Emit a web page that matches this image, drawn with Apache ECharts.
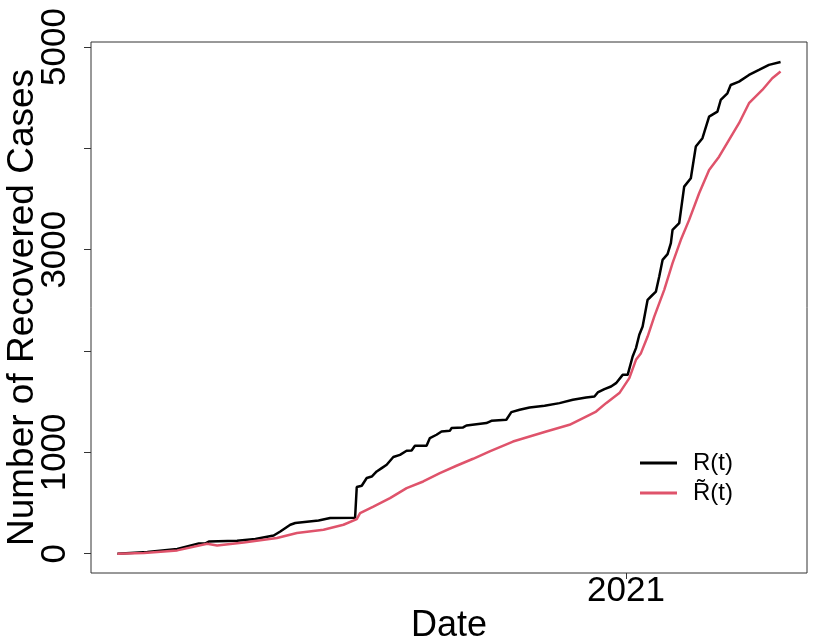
<!DOCTYPE html>
<html>
<head>
<meta charset="utf-8">
<script src="https://cdn.jsdelivr.net/npm/echarts@6/dist/echarts.min.js"></script>
<style>
  html, body { margin: 0; padding: 0; background: #fff; }
  #chart { width: 830px; height: 642px; }
</style>
</head>
<body>
<div id="chart"></div>
<script>
// observed recovered cases R(t)
const obsDates = [
  '2020-03-01', '2020-03-19', '2020-04-06', '2020-04-19', '2020-04-23', '2020-04-25',
  '2020-05-12', '2020-05-23', '2020-06-03', '2020-06-07', '2020-06-13', '2020-06-16',
  '2020-06-30', '2020-07-07', '2020-07-22', '2020-07-23', '2020-07-26', '2020-07-29',
  '2020-08-01', '2020-08-04', '2020-08-07', '2020-08-10', '2020-08-14', '2020-08-18',
  '2020-08-22', '2020-08-25', '2020-08-27', '2020-09-03', '2020-09-05', '2020-09-09',
  '2020-09-12', '2020-09-17', '2020-09-18', '2020-09-25', '2020-09-27', '2020-10-09',
  '2020-10-12', '2020-10-21', '2020-10-24', '2020-10-29', '2020-11-04', '2020-11-13',
  '2020-11-22', '2020-11-30', '2020-12-08', '2020-12-13', '2020-12-15', '2020-12-19',
  '2020-12-23', '2020-12-26', '2020-12-30', '2021-01-02', '2021-01-05', '2021-01-07',
  '2021-01-09', '2021-01-11', '2021-01-14', '2021-01-16', '2021-01-19', '2021-01-21',
  '2021-01-23', '2021-01-26', '2021-01-28', '2021-01-29', '2021-02-02', '2021-02-05',
  '2021-02-09', '2021-02-12', '2021-02-16', '2021-02-20', '2021-02-25', '2021-02-27',
  '2021-03-03', '2021-03-05', '2021-03-10', '2021-03-16', '2021-03-22', '2021-03-28',
  '2021-04-04'
]
const obsValues = [
  0, 17, 46, 102, 102, 121,
  128, 145, 180, 220, 286, 303,
  328, 352, 355, 658, 671, 747,
  762, 812, 845, 878, 954, 976,
  1016, 1019, 1065, 1065, 1141, 1174,
  1206, 1213, 1240, 1246, 1265, 1289,
  1312, 1322, 1397, 1420, 1443, 1460,
  1486, 1519, 1541, 1551, 1591, 1624,
  1650, 1683, 1765, 1765, 1946, 2029,
  2160, 2242, 2505, 2538, 2587, 2735,
  2899, 2956, 3064, 3195, 3261, 3622,
  3705, 4017, 4100, 4313, 4362, 4477,
  4543, 4625, 4658, 4724, 4773, 4823,
  4852
]

// estimated recovered cases R~(t)
const estDates = [
  '2020-03-01', '2020-03-17', '2020-04-06', '2020-04-24', '2020-04-30', '2020-05-16',
  '2020-06-05', '2020-06-17', '2020-07-03', '2020-07-15', '2020-07-23', '2020-07-25',
  '2020-08-02', '2020-08-12', '2020-08-22', '2020-09-01', '2020-09-11', '2020-09-21',
  '2020-10-01', '2020-10-11', '2020-10-25', '2020-11-14', '2020-11-28', '2020-12-08',
  '2020-12-14', '2020-12-20', '2020-12-28', '2021-01-03', '2021-01-07', '2021-01-10',
  '2021-01-14', '2021-01-18', '2021-01-24', '2021-01-29', '2021-02-03', '2021-02-08',
  '2021-02-14', '2021-02-20', '2021-02-26', '2021-03-04', '2021-03-10', '2021-03-16',
  '2021-03-24', '2021-03-30', '2021-04-04'
]
const estValues = [
  0, 7, 33, 99, 82, 111,
  155, 204, 237, 286, 342, 401,
  466, 549, 648, 713, 796, 868,
  937, 1009, 1107, 1206, 1272, 1354,
  1403, 1486, 1585, 1733, 1913, 1979,
  2143, 2340, 2604, 2867, 3097, 3294,
  3557, 3787, 3918, 4083, 4248, 4445,
  4576, 4691, 4757
]

const yTicks = [0, 1000, 2000, 3000, 4000, 5000]
const yLabels = [0, 1000, 3000, 5000]
const xLabelDates = ['2021-01-01']
const seriesNames = ['R(t)', 'R\u0303(t)']

const DAY = 86400000
const toPairs = (dates, vals) => dates.map((d, i) => [Date.parse(d), vals[i]])
const start = Date.parse(obsDates[0])
const xMarks = xLabelDates.map(d => Date.parse(d))
const font = 'Liberation Sans, Arial, sans-serif'

const chart = echarts.init(document.getElementById('chart'))
chart.setOption({
  animation: false,
  backgroundColor: '#fff',
  grid: {
    left: 91, top: 42, width: 716, height: 531,
    containLabel: false,
    outerBoundsMode: 'none',
    show: true, borderColor: '#333', borderWidth: 1
  },
  xAxis: {
    type: 'value',
    min: start - 15.9 * DAY,
    max: start + 414.9 * DAY,
    name: 'Date',
    nameLocation: 'middle',
    nameGap: 35,
    nameMoveOverlap: false,
    nameTextStyle: { fontFamily: font, fontSize: 36, color: '#000' },
    axisLine: { show: false, onZero: false },
    splitLine: { show: false },
    axisTick: {
      show: true, length: 6, customValues: xMarks,
      lineStyle: { color: '#333' }
    },
    axisLabel: {
      customValues: xMarks,
      formatter: v => String(new Date(v).getUTCFullYear()),
      fontFamily: font, fontSize: 35, color: '#000', margin: 1
    }
  },
  yAxis: {
    type: 'value',
    min: -190,
    max: 5049,
    name: 'Number of Recovered Cases',
    nameLocation: 'middle',
    nameRotate: 90,
    nameGap: 50,
    nameMoveOverlap: false,
    nameTextStyle: { fontFamily: font, fontSize: 37, color: '#000' },
    axisLine: { show: false, onZero: false },
    splitLine: { show: false },
    axisTick: {
      show: true, length: 7, customValues: yTicks,
      lineStyle: { color: '#333' }
    },
    axisLabel: {
      customValues: yLabels,
      formatter: v => String(v),
      rotate: 90,
      margin: 18,
      fontFamily: font, fontSize: 35, color: '#000'
    }
  },
  legend: {
    orient: 'vertical',
    left: 635,
    top: 446,
    itemWidth: 37,
    itemHeight: 3,
    itemGap: 6,
    icon: 'rect',
    data: seriesNames,
    textStyle: {
      fontFamily: font, fontSize: 24, color: '#000',
      lineHeight: 24, padding: [0, 0, 0, 11]
    }
  },
  series: [
    {
      name: seriesNames[0],
      type: 'line',
      data: toPairs(obsDates, obsValues),
      showSymbol: false,
      color: '#000000',
      lineStyle: { width: 2.5, color: '#000000' }
    },
    {
      name: seriesNames[1],
      type: 'line',
      data: toPairs(estDates, estValues),
      showSymbol: false,
      color: '#DF536B',
      lineStyle: { width: 2.5, color: '#DF536B' }
    }
  ]
})
</script>
</body>
</html>
